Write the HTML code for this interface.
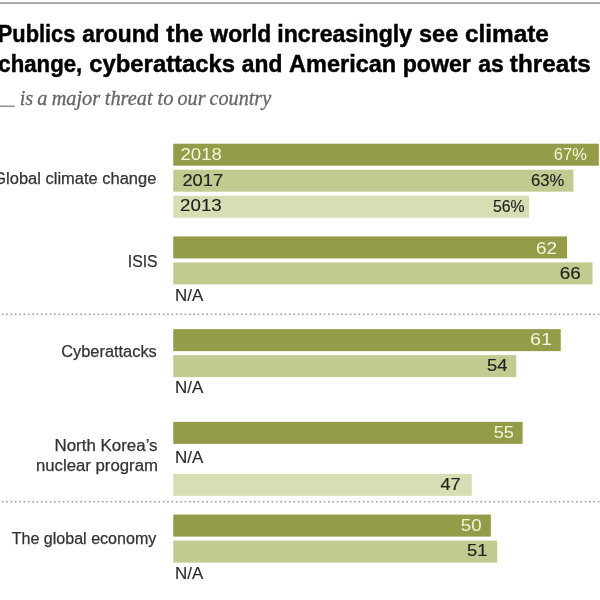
<!DOCTYPE html>
<html><head><meta charset="utf-8"><style>
html,body{margin:0;padding:0;background:#fff;width:600px;height:600px;overflow:hidden}
svg{display:block;filter:blur(0.4px)}
</style></head><body>
<svg width="600" height="600" viewBox="0 0 600 600">
<rect x="0" y="2.35" width="600" height="1.4" fill="#8c8c8c"/>
<rect x="0" y="105.6" width="14.7" height="1.2" fill="#777"/>
<rect x="173.25" y="143.70" width="425.58" height="22" fill="#949c49"/>
<rect x="173.25" y="169.70" width="400.18" height="22" fill="#c3ca8f"/>
<rect x="173.25" y="195.70" width="355.71" height="22" fill="#d8deb3"/>
<rect x="173.25" y="236.42" width="393.82" height="22" fill="#949c49"/>
<rect x="173.25" y="262.42" width="419.23" height="22" fill="#c3ca8f"/>
<rect x="173.25" y="329.14" width="387.47" height="22" fill="#949c49"/>
<rect x="173.25" y="355.14" width="343.01" height="22" fill="#c3ca8f"/>
<rect x="173.25" y="421.86" width="349.36" height="22" fill="#949c49"/>
<rect x="173.25" y="473.86" width="298.54" height="22" fill="#d8deb3"/>
<rect x="173.25" y="514.58" width="317.60" height="22" fill="#949c49"/>
<rect x="173.25" y="540.58" width="323.95" height="22" fill="#c3ca8f"/>
<line x1="0" y1="314.2" x2="600" y2="314.2" stroke="#999" stroke-width="1.5" stroke-dasharray="1.5 2.85" stroke-dashoffset="2.43"/>
<line x1="0" y1="501.75" x2="600" y2="501.75" stroke="#999" stroke-width="1.5" stroke-dasharray="1.5 2.85" stroke-dashoffset="2.43"/>
<text x="-2.25" y="42.3" style='font-family:"Liberation Sans",sans-serif;font-weight:bold' font-size="24" fill="#000" textLength="77.62" lengthAdjust="spacingAndGlyphs" stroke="#000" stroke-width="0.45">Publics</text>
<text x="82.22" y="42.3" style='font-family:"Liberation Sans",sans-serif;font-weight:bold' font-size="24" fill="#000" textLength="77.34" lengthAdjust="spacingAndGlyphs" stroke="#000" stroke-width="0.45">around</text>
<text x="166.17" y="42.3" style='font-family:"Liberation Sans",sans-serif;font-weight:bold' font-size="24" fill="#000" textLength="37.17" lengthAdjust="spacingAndGlyphs" stroke="#000" stroke-width="0.45">the</text>
<text x="210.36" y="42.3" style='font-family:"Liberation Sans",sans-serif;font-weight:bold' font-size="24" fill="#000" textLength="60.95" lengthAdjust="spacingAndGlyphs" stroke="#000" stroke-width="0.45">world</text>
<text x="277.26" y="42.3" style='font-family:"Liberation Sans",sans-serif;font-weight:bold' font-size="24" fill="#000" textLength="134.86" lengthAdjust="spacingAndGlyphs" stroke="#000" stroke-width="0.45">increasingly</text>
<text x="419.09" y="42.3" style='font-family:"Liberation Sans",sans-serif;font-weight:bold' font-size="24" fill="#000" textLength="39.14" lengthAdjust="spacingAndGlyphs" stroke="#000" stroke-width="0.45">see</text>
<text x="464.94" y="42.3" style='font-family:"Liberation Sans",sans-serif;font-weight:bold' font-size="24" fill="#000" textLength="83.96" lengthAdjust="spacingAndGlyphs" stroke="#000" stroke-width="0.45">climate</text>
<text x="-1.69" y="72" style='font-family:"Liberation Sans",sans-serif;font-weight:bold' font-size="24" fill="#000" textLength="83.91" lengthAdjust="spacingAndGlyphs" stroke="#000" stroke-width="0.45">change,</text>
<text x="89.25" y="72" style='font-family:"Liberation Sans",sans-serif;font-weight:bold' font-size="24" fill="#000" textLength="145.81" lengthAdjust="spacingAndGlyphs" stroke="#000" stroke-width="0.45">cyberattacks</text>
<text x="241.83" y="72" style='font-family:"Liberation Sans",sans-serif;font-weight:bold' font-size="24" fill="#000" textLength="40.52" lengthAdjust="spacingAndGlyphs" stroke="#000" stroke-width="0.45">and</text>
<text x="289.06" y="72" style='font-family:"Liberation Sans",sans-serif;font-weight:bold' font-size="24" fill="#000" textLength="107.18" lengthAdjust="spacingAndGlyphs" stroke="#000" stroke-width="0.45">American</text>
<text x="402.67" y="72" style='font-family:"Liberation Sans",sans-serif;font-weight:bold' font-size="24" fill="#000" textLength="68.20" lengthAdjust="spacingAndGlyphs" stroke="#000" stroke-width="0.45">power</text>
<text x="478.22" y="72" style='font-family:"Liberation Sans",sans-serif;font-weight:bold' font-size="24" fill="#000" textLength="25.56" lengthAdjust="spacingAndGlyphs" stroke="#000" stroke-width="0.45">as</text>
<text x="509.87" y="72" style='font-family:"Liberation Sans",sans-serif;font-weight:bold' font-size="24" fill="#000" textLength="80.91" lengthAdjust="spacingAndGlyphs" stroke="#000" stroke-width="0.45">threats</text>
<text x="19.69" y="104.8" style='font-family:"Liberation Serif",serif;font-style:italic' font-size="20" fill="#666" textLength="13.48" lengthAdjust="spacingAndGlyphs" stroke="#666" stroke-width="0.3">is</text>
<text x="37.19" y="104.8" style='font-family:"Liberation Serif",serif;font-style:italic' font-size="20" fill="#666" textLength="10.14" lengthAdjust="spacingAndGlyphs" stroke="#666" stroke-width="0.3">a</text>
<text x="51.67" y="104.8" style='font-family:"Liberation Serif",serif;font-style:italic' font-size="20" fill="#666" textLength="48.51" lengthAdjust="spacingAndGlyphs" stroke="#666" stroke-width="0.3">major</text>
<text x="104.84" y="104.8" style='font-family:"Liberation Serif",serif;font-style:italic' font-size="20" fill="#666" textLength="47.69" lengthAdjust="spacingAndGlyphs" stroke="#666" stroke-width="0.3">threat</text>
<text x="157.53" y="104.8" style='font-family:"Liberation Serif",serif;font-style:italic' font-size="20" fill="#666" textLength="15.91" lengthAdjust="spacingAndGlyphs" stroke="#666" stroke-width="0.3">to</text>
<text x="177.50" y="104.8" style='font-family:"Liberation Serif",serif;font-style:italic' font-size="20" fill="#666" textLength="27.99" lengthAdjust="spacingAndGlyphs" stroke="#666" stroke-width="0.3">our</text>
<text x="209.50" y="104.8" style='font-family:"Liberation Serif",serif;font-style:italic' font-size="20" fill="#666" textLength="61.65" lengthAdjust="spacingAndGlyphs" stroke="#666" stroke-width="0.3">country</text>
<text x="-6.77" y="183.6" style='font-family:"Liberation Sans",sans-serif' font-size="16" fill="#333" textLength="163.15" lengthAdjust="spacingAndGlyphs" stroke="#333" stroke-width="0.25">Global climate change</text>
<text x="127.85" y="266.9" style='font-family:"Liberation Sans",sans-serif' font-size="16" fill="#333" textLength="29.75" lengthAdjust="spacingAndGlyphs" stroke="#333" stroke-width="0.25">ISIS</text>
<text x="61.23" y="357" style='font-family:"Liberation Sans",sans-serif' font-size="16" fill="#333" textLength="95.57" lengthAdjust="spacingAndGlyphs" stroke="#333" stroke-width="0.25">Cyberattacks</text>
<text x="54.48" y="450.6" style='font-family:"Liberation Sans",sans-serif' font-size="16" fill="#333" textLength="103.08" lengthAdjust="spacingAndGlyphs" stroke="#333" stroke-width="0.25">North Korea’s</text>
<text x="35.95" y="471" style='font-family:"Liberation Sans",sans-serif' font-size="16" fill="#333" textLength="121.96" lengthAdjust="spacingAndGlyphs" stroke="#333" stroke-width="0.25">nuclear program</text>
<text x="11.65" y="544" style='font-family:"Liberation Sans",sans-serif' font-size="16" fill="#333" textLength="144.71" lengthAdjust="spacingAndGlyphs" stroke="#333" stroke-width="0.25">The global economy</text>
<text x="553.80" y="159.7" style='font-family:"Liberation Sans",sans-serif' font-size="16" fill="#f4f4dc" textLength="33.04" lengthAdjust="spacingAndGlyphs" >67%</text>
<text x="530.92" y="185.8" style='font-family:"Liberation Sans",sans-serif' font-size="16" fill="#222" textLength="33.33" lengthAdjust="spacingAndGlyphs" stroke="#222" stroke-width="0.15">63%</text>
<text x="492.88" y="211.5" style='font-family:"Liberation Sans",sans-serif' font-size="16" fill="#222" textLength="31.63" lengthAdjust="spacingAndGlyphs" stroke="#222" stroke-width="0.15">56%</text>
<text x="535.97" y="253.7" style='font-family:"Liberation Sans",sans-serif' font-size="16" fill="#f4f4dc" textLength="20.97" lengthAdjust="spacingAndGlyphs" >62</text>
<text x="559.82" y="279" style='font-family:"Liberation Sans",sans-serif' font-size="16" fill="#222" textLength="20.98" lengthAdjust="spacingAndGlyphs" stroke="#222" stroke-width="0.15">66</text>
<text x="529.91" y="344.7" style='font-family:"Liberation Sans",sans-serif' font-size="16" fill="#f4f4dc" textLength="22.07" lengthAdjust="spacingAndGlyphs" >61</text>
<text x="487.08" y="371" style='font-family:"Liberation Sans",sans-serif' font-size="16" fill="#222" textLength="20.40" lengthAdjust="spacingAndGlyphs" stroke="#222" stroke-width="0.15">54</text>
<text x="493.69" y="437.7" style='font-family:"Liberation Sans",sans-serif' font-size="16" fill="#f4f4dc" textLength="20.28" lengthAdjust="spacingAndGlyphs" >55</text>
<text x="440.52" y="489.5" style='font-family:"Liberation Sans",sans-serif' font-size="16" fill="#222" textLength="20.04" lengthAdjust="spacingAndGlyphs" stroke="#222" stroke-width="0.15">47</text>
<text x="460.87" y="530.9" style='font-family:"Liberation Sans",sans-serif' font-size="16" fill="#f4f4dc" textLength="20.71" lengthAdjust="spacingAndGlyphs" >50</text>
<text x="467.08" y="555.8" style='font-family:"Liberation Sans",sans-serif' font-size="16" fill="#222" textLength="20.39" lengthAdjust="spacingAndGlyphs" stroke="#222" stroke-width="0.15">51</text>
<text x="180.53" y="160" style='font-family:"Liberation Sans",sans-serif' font-size="16" fill="#f4f4dc" textLength="41.30" lengthAdjust="spacingAndGlyphs" >2018</text>
<text x="182.44" y="186.4" style='font-family:"Liberation Sans",sans-serif' font-size="16" fill="#222" textLength="40.68" lengthAdjust="spacingAndGlyphs" stroke="#222" stroke-width="0.15">2017</text>
<text x="180.12" y="211.3" style='font-family:"Liberation Sans",sans-serif' font-size="16" fill="#222" textLength="41.57" lengthAdjust="spacingAndGlyphs" stroke="#222" stroke-width="0.15">2013</text>
<text x="174.98" y="301" style='font-family:"Liberation Sans",sans-serif' font-size="16" fill="#2a2a2a" textLength="28.24" lengthAdjust="spacingAndGlyphs" stroke="#2a2a2a" stroke-width="0.15">N/A</text>
<text x="174.98" y="393" style='font-family:"Liberation Sans",sans-serif' font-size="16" fill="#2a2a2a" textLength="28.24" lengthAdjust="spacingAndGlyphs" stroke="#2a2a2a" stroke-width="0.15">N/A</text>
<text x="174.98" y="463" style='font-family:"Liberation Sans",sans-serif' font-size="16" fill="#2a2a2a" textLength="28.24" lengthAdjust="spacingAndGlyphs" stroke="#2a2a2a" stroke-width="0.15">N/A</text>
<text x="174.98" y="579" style='font-family:"Liberation Sans",sans-serif' font-size="16" fill="#2a2a2a" textLength="28.24" lengthAdjust="spacingAndGlyphs" stroke="#2a2a2a" stroke-width="0.15">N/A</text>
</svg></body></html>
